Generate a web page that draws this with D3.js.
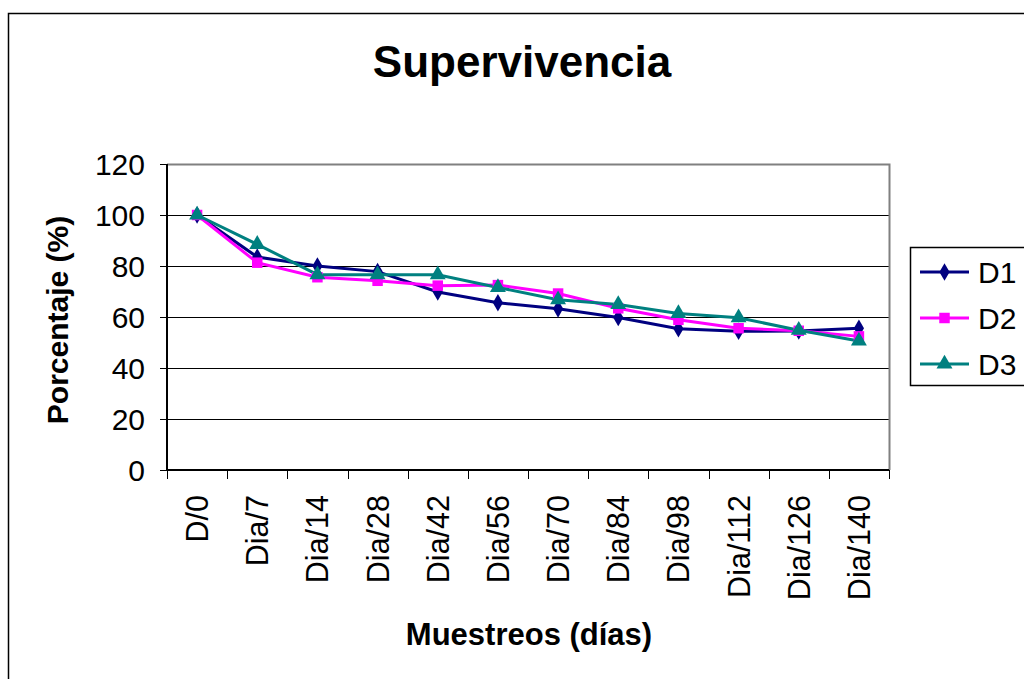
<!DOCTYPE html>
<html>
<head>
<meta charset="utf-8">
<script src="https://cdn.jsdelivr.net/npm/d3@7"></script>
<style>
  body { margin: 0; background: #fff; }
  svg text { font-family: "Liberation Sans", Arial, sans-serif; fill: #000; }
</style>
</head>
<body>
<svg id="chart" width="1024" height="679"></svg>
<script>
// data
var categories = ["D/0", "Dia/7", "Dia/14", "Dia/28", "Dia/42", "Dia/56", "Dia/70", "Dia/84", "Dia/98", "Dia/112", "Dia/126", "Dia/140"];
var d1 = [100, 83.5, 80, 77.8, 69.8, 65.6, 63.2, 59.8, 55.4, 54.4, 54.5, 55.6];
var d2 = [100, 81.3, 75.6, 74.2, 72.3, 72.5, 69.2, 63.4, 58.9, 55.6, 54.6, 52.4];
var d3s = [100, 88.5, 76.6, 76.6, 76.6, 71.6, 66.8, 64.9, 61.4, 59.7, 54.8, 50.6];
var yTicks = [0, 20, 40, 60, 80, 100, 120];

var series = [
  { name: "D1", values: d1, color: "#000080", marker: "diamond" },
  { name: "D2", values: d2, color: "#ff00ff", marker: "square" },
  { name: "D3", values: d3s, color: "#008080", marker: "triangle" }
];

var plot = { left: 167, top: 164, right: 889, bottom: 470 };
var svg = d3.select("#chart");

// outer chart frame
svg.append("rect")
  .attr("x", 8.5).attr("y", 13.5)
  .attr("width", 1040).attr("height", 700)
  .attr("fill", "none").attr("stroke", "#000").attr("stroke-width", 1.5);

var x = d3.scaleBand().domain(categories).range([plot.left, plot.right]).padding(0);
var y = d3.scaleLinear().domain([0, 120]).range([plot.bottom, plot.top]);

// gridlines
svg.append("g").selectAll("line")
  .data(yTicks.filter(function (t) { return t > 0 && t < 120; }))
  .enter().append("line")
  .attr("x1", plot.left).attr("x2", plot.right)
  .attr("y1", function (d) { return y(d) + 0.5; })
  .attr("y2", function (d) { return y(d) + 0.5; })
  .attr("stroke", "#000").attr("stroke-width", 1);

// plot area border (top / right)
svg.append("path")
  .attr("d", "M" + plot.left + "," + (plot.top + 0.5) + "H" + (plot.right + 0.5) + "V" + plot.bottom)
  .attr("fill", "none").attr("stroke", "#808080").attr("stroke-width", 2);

// y axis
var yAxis = svg.append("g");
yAxis.append("line")
  .attr("x1", plot.left).attr("x2", plot.left)
  .attr("y1", plot.top).attr("y2", plot.bottom)
  .attr("stroke", "#000").attr("stroke-width", 2);
yAxis.selectAll(".ytick").data(yTicks).enter().append("line")
  .attr("x1", plot.left - 7).attr("x2", plot.left)
  .attr("y1", function (d) { return y(d) + 0.5; })
  .attr("y2", function (d) { return y(d) + 0.5; })
  .attr("stroke", "#000").attr("stroke-width", 1);
yAxis.selectAll("text").data(yTicks).enter().append("text")
  .attr("x", 145)
  .attr("y", function (d) { return y(d); })
  .attr("dy", "0.36em")
  .attr("text-anchor", "end")
  .style("font-size", "30px")
  .text(function (d) { return d; });

// x axis
var xAxis = svg.append("g");
xAxis.append("line")
  .attr("x1", plot.left).attr("x2", plot.right)
  .attr("y1", plot.bottom).attr("y2", plot.bottom)
  .attr("stroke", "#000").attr("stroke-width", 2);
var bounds = categories.map(function (c) { return x(c); }).concat([x(categories[categories.length - 1]) + x.bandwidth()]);
xAxis.selectAll(".xtick").data(bounds).enter().append("line")
  .attr("x1", function (d) { return Math.round(d) + 0.5; })
  .attr("x2", function (d) { return Math.round(d) + 0.5; })
  .attr("y1", plot.bottom).attr("y2", plot.bottom + 9)
  .attr("stroke", "#000").attr("stroke-width", 1);
xAxis.selectAll("text").data(categories).enter().append("text")
  .attr("transform", function (d) {
    return "translate(" + (x(d) + x.bandwidth() / 2) + "," + 495 + ") rotate(-90)";
  })
  .attr("dy", "0.36em")
  .attr("text-anchor", "end")
  .style("font-size", "30.5px")
  .text(function (d) { return d; });

// lines and markers
var line = d3.line()
  .x(function (d, i) { return x(categories[i]) + x.bandwidth() / 2; })
  .y(function (d) { return y(d); });

var symbolFor = {
  diamond: d3.symbol().type(d3.symbolDiamond).size(90),
  square: d3.symbol().type(d3.symbolSquare).size(110),
  triangle: d3.symbol().type(d3.symbolTriangle).size(110)
};

series.forEach(function (s) {
  svg.append("path")
    .datum(s.values)
    .attr("d", line)
    .attr("fill", "none")
    .attr("stroke", s.color)
    .attr("stroke-width", 3);
});
series.forEach(function (s) {
  svg.append("g").selectAll("path")
    .data(s.values)
    .enter().append("path")
    .attr("transform", function (d, i) {
      return "translate(" + (x(categories[i]) + x.bandwidth() / 2) + "," + y(d) + ")";
    })
    .attr("d", symbolFor[s.marker]())
    .attr("fill", s.color);
});

// titles
svg.append("text")
  .attr("x", 522).attr("y", 77)
  .attr("text-anchor", "middle")
  .style("font-size", "44px").style("font-weight", "bold")
  .text("Supervivencia");

svg.append("text")
  .attr("x", 529).attr("y", 645)
  .attr("text-anchor", "middle")
  .style("font-size", "31px").style("font-weight", "bold")
  .text("Muestreos (días)");

svg.append("text")
  .attr("transform", "translate(68,320) rotate(-90)")
  .attr("text-anchor", "middle")
  .style("font-size", "30px").style("font-weight", "bold")
  .text("Porcentaje (%)");

// legend
var legend = svg.append("g");
legend.append("rect")
  .attr("x", 910.5).attr("y", 247.5)
  .attr("width", 130).attr("height", 138)
  .attr("fill", "#fff").attr("stroke", "#000").attr("stroke-width", 1.5);
series.forEach(function (s, i) {
  var ly = 272 + i * 46;
  legend.append("line")
    .attr("x1", 920).attr("x2", 969)
    .attr("y1", ly).attr("y2", ly)
    .attr("stroke", s.color).attr("stroke-width", 3);
  legend.append("path")
    .attr("transform", "translate(944.5," + ly + ")")
    .attr("d", symbolFor[s.marker]())
    .attr("fill", s.color);
  legend.append("text")
    .attr("x", 978).attr("y", ly)
    .attr("dy", "0.36em")
    .style("font-size", "30px")
    .text(s.name);
});
</script>
</body>
</html>
